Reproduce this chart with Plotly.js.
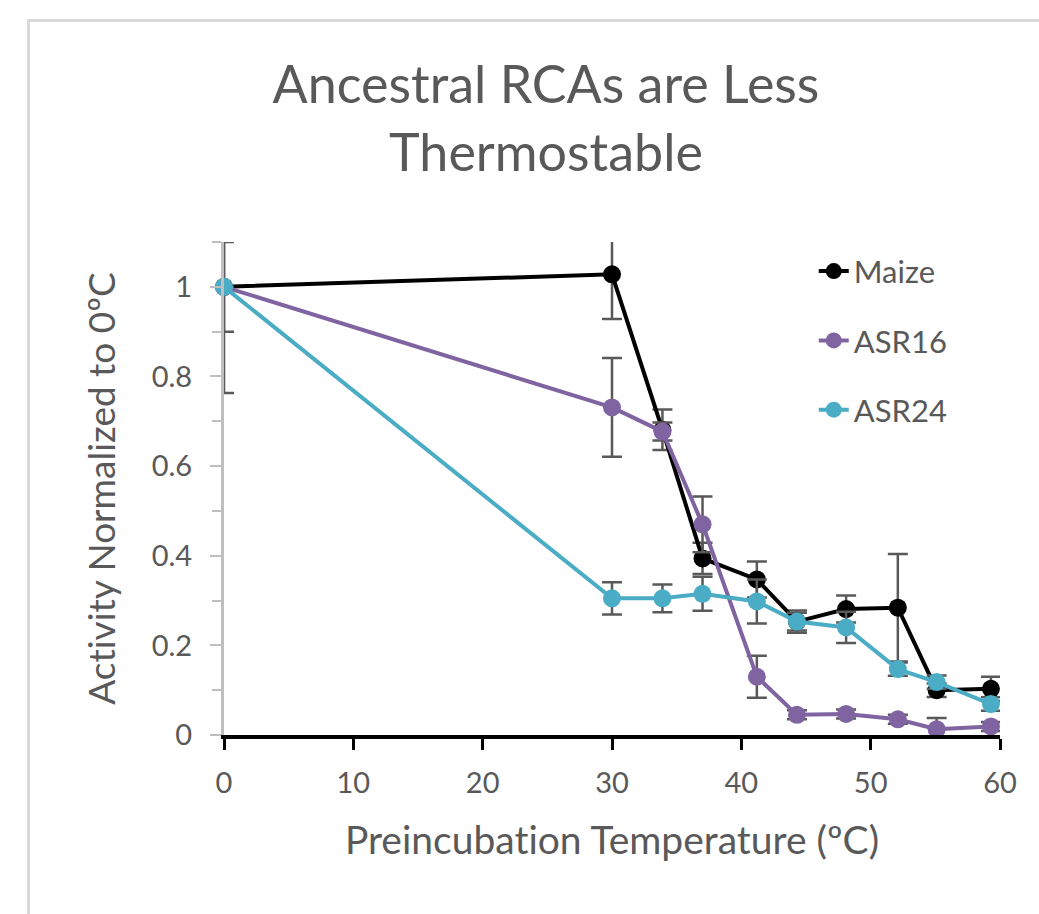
<!DOCTYPE html>
<html>
<head>
<meta charset="utf-8">
<script src="https://cdn.plot.ly/plotly-3.0.1.min.js"></script>
<style>
  html, body { margin: 0; padding: 0; background: #ffffff; }
  #frame { position: absolute; left: 27px; top: 19px; width: 1100px; height: 1000px;
           border-left: 3px solid #d9d9d9; border-top: 3px solid #d9d9d9; box-sizing: border-box; }
  #chart { position: absolute; left: 0; top: 0; width: 1039px; height: 914px; }
  #chart text { font-variant-ligatures: none; font-feature-settings: "liga" 0; }
</style>
</head>
<body>
<div id="frame"></div>
<div id="chart"></div>
<script>
// Preincubation temperatures (°C)
var temps = [0, 30, 33.9, 37.0, 41.2, 44.3, 48.1, 52.1, 55.1, 59.3];

// Activity normalized to 0 °C
var maize = [1.0, 1.028, 0.681, 0.394, 0.347, 0.253, 0.281, 0.284, 0.100, 0.103];
var asr16 = [1.0, 0.731, 0.677, 0.470, 0.130, 0.045, 0.047, 0.035, 0.013, 0.019];
var asr24 = [1.0, 0.305, 0.305, 0.315, 0.298, 0.253, 0.240, 0.147, 0.118, 0.069];

// Error bars (symmetric)
var maizeErr = [0.100, 0.100, 0.045, 0.035, 0.040, 0.025, 0.030, 0.120, 0.015, 0.027];
var asr16Err = [0.237, 0.110, 0.020, 0.062, 0.047, 0.010, 0.010, 0.010, 0.025, 0.010];
var asr24Err = [0.000, 0.036, 0.031, 0.038, 0.049, 0.020, 0.035, 0.015, 0.015, 0.015];

var seriesNames = ['Maize', 'ASR16', 'ASR24'];
var seriesColors = ['#000000', '#8064A2', '#4BACC6'];

var xTickVals = [0, 10, 20, 30, 40, 50, 60];
var yTickVals = [0, 0.2, 0.4, 0.6, 0.8, 1];
var yTickText = ['0', '0.2', '0.4', '0.6', '0.8', '1'];

var FONT = 'Lato, "Open Sans", sans-serif';
var GREY = '#595959';

var ys = [maize, asr16, asr24];
var errs = [maizeErr, asr16Err, asr24Err];

var traces = ys.map(function (y, i) {
  return {
    type: 'scatter',
    mode: 'lines+markers',
    name: seriesNames[i],
    legendgroup: seriesNames[i],
    x: temps,
    y: y,
    line: { color: seriesColors[i], width: 4 },
    marker: { color: seriesColors[i], size: 18 },
    error_y: { type: 'data', array: errs[i], visible: true, color: GREY, thickness: 2.5, width: 10 },
    cliponaxis: false
  };
});

var layout = {
  width: 1039,
  height: 914,
  margin: { l: 224, r: 39, t: 242, b: 179, pad: 0 },
  paper_bgcolor: 'rgba(0,0,0,0)',
  plot_bgcolor: 'rgba(0,0,0,0)',
  showlegend: true,
  title: {
    text: 'Ancestral RCAs are Less<br>Thermostable',
    font: { family: FONT, size: 52, color: GREY },
    x: 546 / 1039, xanchor: 'center', xref: 'container',
    y: 1 - 103 / 914, yanchor: 'top', yref: 'container'
  },
  xaxis: {
    range: [0, 60],
    tickvals: xTickVals,
    ticks: 'outside', ticklen: 11, tickwidth: 3, tickcolor: '#000000',
    showline: true, linecolor: '#000000', linewidth: 4,
    showgrid: false, zeroline: false,
    ticklabelstandoff: 8,
    tickfont: { family: FONT, size: 29, color: GREY },
    title: { text: 'Preincubation Temperature (ºC)', font: { family: FONT, size: 39, color: GREY }, standoff: 30 }
  },
  yaxis: {
    range: [0, 1.1],
    tickvals: yTickVals,
    ticktext: yTickText,
    ticks: 'outside', ticklen: 11, tickwidth: 2, tickcolor: '#bfbfbf',
    minor: { dtick: 0.1, tick0: 0, ticks: 'outside', ticklen: 9, tickwidth: 2, tickcolor: '#bfbfbf', showgrid: false },
    showline: true, linecolor: '#bfbfbf', linewidth: 3,
    showgrid: false, zeroline: false,
    ticklabelstandoff: 12,
    tickfont: { family: FONT, size: 29, color: GREY },
    title: { text: 'Activity Normalized to 0ºC', font: { family: FONT, size: 37, color: GREY }, standoff: 25 }
  },
  legend: {
    x: 0.76, xanchor: 'left', y: 0.995, yanchor: 'top',
    bgcolor: 'rgba(0,0,0,0)',
    font: { family: FONT, size: 31, color: GREY },
    tracegroupgap: 26,
    itemwidth: 30
  }
};

Plotly.newPlot('chart', traces, layout, { displayModeBar: false, staticPlot: true });
</script>
</body>
</html>
